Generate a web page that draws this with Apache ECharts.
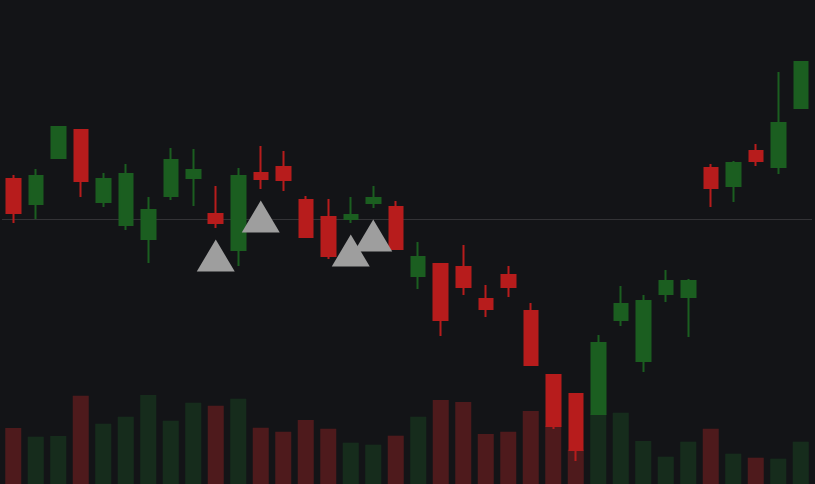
<!DOCTYPE html>
<html>
<head>
<meta charset="utf-8">
<script src="https://cdn.jsdelivr.net/npm/echarts@6/dist/echarts.min.js"></script>
<style>
  html, body { margin: 0; padding: 0; background: #131417; }
  #main { width: 815px; height: 484px; }
</style>
</head>
<body>
<div id="main"></div>
<script>
// 日期（坐标轴隐藏）
var days = ['03-01','03-02','03-03','03-04','03-05','03-06','03-07','03-08','03-09','03-10',
  '03-11','03-12','03-13','03-14','03-15','03-16','03-17','03-18','03-19','03-20',
  '03-21','03-22','03-23','03-24','03-25','03-26','03-27','03-28','03-29','03-30',
  '03-31','04-01','04-02','04-03','04-04','04-05'];

var openList  = [104.0,101.5,106.1,108.9,101.7, 99.4, 98.0,102.3,104.1,100.5, 96.9,104.6,105.2,101.9,100.2,100.0,101.6,101.2, 94.3, 95.5, 95.2, 92.0, 94.4, 90.8, 84.4, 82.5, 80.5, 89.9, 85.8, 92.5, 92.2,105.1,103.3,106.8,105.2,111.1];
var closeList = [100.6,104.3,109.2,103.8,104.0,104.5,100.9,105.9,104.9, 99.6,104.3,104.0,103.9, 98.2, 96.3,100.4,102.1, 97.0, 96.2, 89.9, 93.2, 91.0, 93.2, 85.4, 79.3, 76.9, 87.6, 91.5, 91.8, 93.8, 93.8,103.1,105.6,105.8,109.6,115.7];
var lowList   = [ 99.6,100.0,106.1,102.2,101.2, 98.9, 95.6,101.9,101.3, 99.1, 95.3,103.0,102.8, 98.2, 96.0, 99.6,101.1, 97.0, 93.0, 88.3, 92.4, 90.2, 92.2, 85.4, 79.0, 75.8, 80.5, 89.3, 84.7, 91.7, 88.2,101.2,101.7,105.3,104.5,111.0];
var highList  = [104.4,105.0,109.2,108.9,104.6,105.5,102.2,107.1,107.0,103.3,105.1,107.3,106.8,102.3,102.0,102.2,103.3,101.8, 97.7, 95.5, 97.4, 93.4, 95.3, 91.6, 84.4, 82.6, 88.4, 93.3, 92.4, 94.9, 94.0,105.5,105.8,107.5,114.7,115.7];
var volumeList = [5600,4730,4800,8830,6030,6730,8900,6330,8130,7830,8530,5630,5230,6400,5530,4130,3930,4830,6730,8400,
  8200,5000,5230,7300,5830,3430,7030,7130,4300,2730,4230,5530,3030,2630,2530,4230];

// 标记信号的K线序号
var signalIndex = [9, 11, 15, 16];
var baseLine = 100;

var upColor = '#1b5e20';
var downColor = '#b71c1c';
var upVolColor = '#162c1c';
var downVolColor = '#4e1a1c';

var kData = [];
var volData = [];
for (var i = 0; i < days.length; i++) {
  kData.push([openList[i], closeList[i], lowList[i], highList[i]]);
  volData.push({
    value: volumeList[i],
    itemStyle: { color: closeList[i] >= openList[i] ? upVolColor : downVolColor }
  });
}
var signalData = signalIndex.map(function (idx) {
  return [idx, lowList[idx]];
});

var chart = echarts.init(document.getElementById('main'));
var option = {
  backgroundColor: '#131417',
  animation: false,
  grid: [
    { left: 2, right: 3, top: 0, bottom: 0 },
    { left: 2, right: 3, top: 384, bottom: 0 }
  ],
  xAxis: [
    { type: 'category', data: days, gridIndex: 0, show: false },
    { type: 'category', data: days, gridIndex: 1, show: false }
  ],
  yAxis: [
    { type: 'value', gridIndex: 0, min: 73.5, max: 121.9, show: false, splitLine: { show: false } },
    { type: 'value', gridIndex: 1, min: 0, max: 10000, show: false, splitLine: { show: false } }
  ],
  series: [{
    name: 'volume',
    type: 'bar',
    xAxisIndex: 1,
    yAxisIndex: 1,
    barWidth: 16,
    z: 1,
    data: volData
  }, {
    name: 'kline',
    type: 'candlestick',
    xAxisIndex: 0,
    yAxisIndex: 0,
    barWidth: 14,
    z: 3,
    itemStyle: {
      color: upColor,
      color0: downColor,
      borderColor: upColor,
      borderColor0: downColor,
      borderWidth: 2
    },
    markLine: {
      silent: true,
      symbol: 'none',
      label: { show: false },
      z: 1,
      lineStyle: { color: '#333336', width: 1, type: 'solid' },
      data: [{ yAxis: baseLine }]
    },
    data: kData
  }, {
    name: 'signal',
    type: 'scatter',
    xAxisIndex: 0,
    yAxisIndex: 0,
    symbol: 'triangle',
    symbolSize: [38, 32],
    symbolOffset: [0, 27.5],
    z: 5,
    itemStyle: { color: '#9e9e9e', opacity: 1 },
    data: signalData
  }]
};
chart.setOption(option);
</script>
</body>
</html>
